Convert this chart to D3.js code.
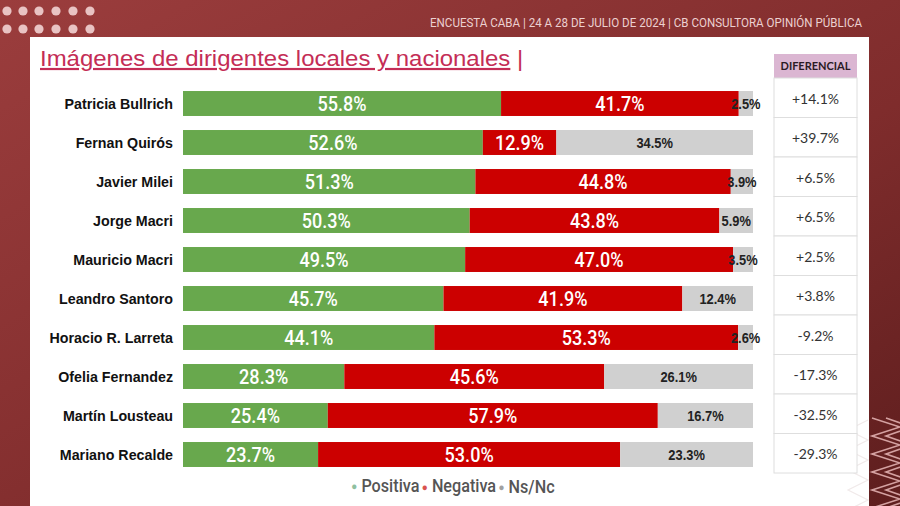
<!DOCTYPE html>
<html><head><meta charset="utf-8">
<script src="https://cdn.jsdelivr.net/npm/d3@7"></script>
<style>
html,body{margin:0;padding:0;background:#fff;}
svg{display:block;}
</style>
</head><body>
<svg id="c" width="900" height="506"></svg>
<script>
const names = ["Patricia Bullrich","Fernan Quirós","Javier Milei","Jorge Macri","Mauricio Macri","Leandro Santoro","Horacio R. Larreta","Ofelia Fernandez","Martín Lousteau","Mariano Recalde"];
const positiva = [55.8,52.6,51.3,50.3,49.5,45.7,44.1,28.3,25.4,23.7];
const negativa = [41.7,12.9,44.8,43.8,47.0,41.9,53.3,45.6,57.9,53.0];
const nsnc = [2.5,34.5,3.9,5.9,3.5,12.4,2.6,26.1,16.7,23.3];
const diferencial = ["+14.1%","+39.7%","+6.5%","+6.5%","+2.5%","+3.8%","-9.2%","-17.3%","-32.5%","-29.3%"];
const seriesNames = ["Positiva","Negativa","Ns/Nc"];
const colors = ["#68a84d","#cc0000","#d0d0d0"];
const titleText = "Imágenes de dirigentes locales y nacionales";
const headerText = "ENCUESTA CABA  | 24 A 28 DE JULIO DE  2024 | CB CONSULTORA OPINIÓN PÚBLICA";

const svg = d3.select("#c");
const defs = svg.append("defs");
const g1 = defs.append("linearGradient").attr("id","bg").attr("x1","0").attr("x2","1").attr("y1","0").attr("y2","1");
g1.append("stop").attr("offset","0").attr("stop-color","#9b3d3d");
g1.append("stop").attr("offset","0.6").attr("stop-color","#7f2c2c");
g1.append("stop").attr("offset","1").attr("stop-color","#5e1e1e");
svg.append("rect").attr("width",900).attr("height",506).attr("fill","url(#bg)");

// dots
const dotX = [7,23,39,56,73,90];
[11,29].forEach(yy=>{
  svg.selectAll(null).data(dotX).enter().append("circle")
    .attr("cx",d=>d).attr("cy",yy).attr("r",4.6).attr("fill","#e9c3c3");
});

// header
svg.append("text").attr("x",862).attr("y",27).attr("text-anchor","end")
  .attr("font-family","Roboto,sans-serif")
  .attr("font-size",12).attr("fill","#ecd0d0")
  .attr("textLength",432).attr("lengthAdjust","spacingAndGlyphs")
  .text(headerText);

// panel
svg.append("rect").attr("x",30).attr("y",37).attr("width",839).attr("height",469).attr("fill","#ffffff");

// chevrons on right dark border
const chev = svg.append("g").attr("fill","none").attr("stroke","#e8b8b8").attr("stroke-width",1.6).attr("opacity",0.85);
[[872,900],[886,912]].forEach(([a,b])=>{
  const pts=[];
  for(let i=0;i<6;i++){ pts.push([a, 418+i*18]); pts.push([b, 427+i*18]); }
  chev.append("polyline").attr("points",pts.map(p=>p.join(",")).join(" "));
});
const chev2 = svg.append("g").attr("fill","none").attr("stroke","#f1eaea").attr("stroke-width",1.2);
[[848,868]].forEach(([a,b])=>{
  const pts=[];
  for(let i=0;i<5;i++){ pts.push([b, 420+i*20]); pts.push([a, 430+i*20]); }
  chev2.append("polyline").attr("points",pts.map(p=>p.join(",")).join(" "));
});

// title
const title = svg.append("text").attr("transform","translate(40,66) scale(1.09,1)")
  .attr("font-family","'Liberation Sans',Arial,sans-serif").attr("font-size",22)
  .attr("fill","#c42d56");
title.append("tspan").attr("text-decoration","underline").text(titleText);
title.append("tspan").text(" |");

// scales
const x = d3.scaleLinear().domain([0,100]).range([183,753]);
const y = d3.scaleBand().domain(names).range([84,474]).paddingInner(0.36).paddingOuter(0.18);

const rows = names.map((n,i)=>({name:n, vals:[positiva[i],negativa[i],nsnc[i]]}));
const segs = [];
rows.forEach(r=>{
  let acc=0;
  r.vals.forEach((v,k)=>{ segs.push({name:r.name,k,v,x0:acc,x1:acc+v}); acc+=v; });
});

svg.append("g").selectAll("rect").data(segs).enter().append("rect")
  .attr("x",d=>x(d.x0)).attr("width",d=>x(d.x1)-x(d.x0))
  .attr("y",d=>y(d.name)).attr("height",y.bandwidth())
  .attr("fill",d=>colors[d.k]);

// value labels
const fmt = d3.format(".1f");
svg.append("g").selectAll("text").data(segs).enter().append("text")
  .attr("transform",d=>`translate(${(x(d.x0)+x(d.x1))/2},${y(d.name)+y.bandwidth()/2}) scale(${d.k<2?0.86:0.92},1)`)
  .attr("dy","0.36em").attr("text-anchor","middle")
  .attr("font-family",d=>d.k<2?"Roboto,sans-serif":"'Liberation Sans',Arial,sans-serif")
  .attr("font-size",d=>d.k<2?21:14)
  .attr("font-weight",d=>d.k<2?500:"bold")
  .attr("fill",d=>d.k<2?"#ffffff":"#222222")
  .text(d=>fmt(d.v)+"%");

// names
svg.append("g").selectAll("text").data(names).enter().append("text")
  .attr("transform",d=>`translate(173,${y(d)+y.bandwidth()/2}) scale(0.92,1)`)
  .attr("dy","0.36em")
  .attr("text-anchor","end")
  .attr("font-family","'Liberation Sans',Arial,sans-serif").attr("font-size",15.5)
  .attr("font-weight","bold").attr("fill","#111")
  .text(d=>d);

// diferencial table
const ty = d3.scaleBand().domain(names).range([78,473]);
svg.append("rect").attr("x",774).attr("y",54).attr("width",83).attr("height",24).attr("fill","#dbb6d2");
svg.append("text").attr("x",815.5).attr("y",66).attr("dy","0.36em").attr("text-anchor","middle")
  .attr("font-family","Lato,'Open Sans',sans-serif").attr("font-size",11).attr("font-weight","bold")
  .attr("fill","#2a1a25").text("DIFERENCIAL");
svg.append("g").selectAll("rect").data(names).enter().append("rect")
  .attr("x",774).attr("y",d=>ty(d)).attr("width",83).attr("height",ty.bandwidth())
  .attr("fill","#fff").attr("stroke","#dedede").attr("stroke-width",1);
svg.append("g").selectAll("text").data(names).enter().append("text")
  .attr("x",815.5).attr("y",d=>ty(d)+ty.bandwidth()/2+1).attr("dy","0.36em").attr("text-anchor","middle")
  .attr("font-family","Lato,'Open Sans',sans-serif").attr("font-size",14)
  .attr("fill","#333").text((d,i)=>diferencial[i]);

// legend
const leg = svg.append("text").attr("transform","translate(453,491) scale(0.9,1)").attr("text-anchor","middle")
  .attr("font-family","Roboto,sans-serif").attr("font-size",18).attr("font-weight",500)
  .attr("fill","#555");
const legDot = ["#8fc0a0","#d9534f","#a0a0a0"];
seriesNames.forEach((s,i)=>{
  leg.append("tspan").attr("fill",legDot[i]).attr("font-size",11).attr("dy", "-0.1em").text((i?" ":"")+"●");
  leg.append("tspan").attr("dy","0.1em").text(" "+s);
});
</script>
</body></html>
